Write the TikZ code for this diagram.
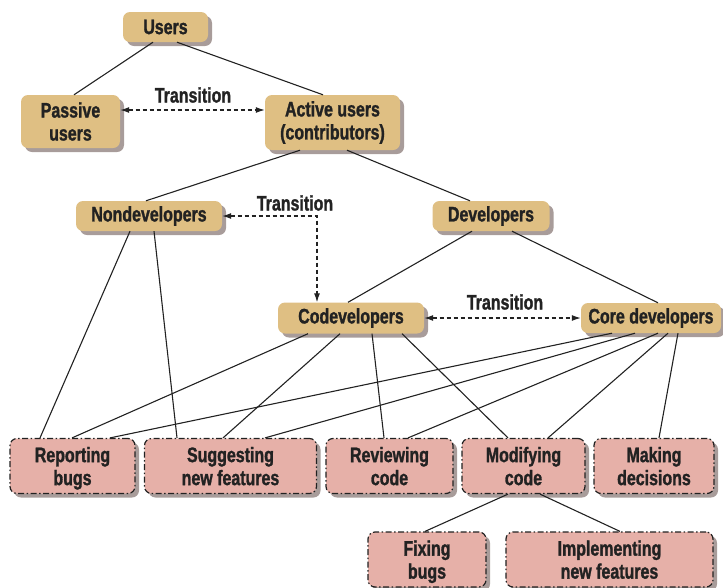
\documentclass[tikz,border=0pt]{standalone}
\usepackage{fontspec}
\setmainfont{Liberation Sans}[FakeStretch=0.84]
\newfontfamily\boxfont{Liberation Sans}[FakeStretch=0.76,FakeBold=1.3]
\usetikzlibrary{arrows.meta,shadows,calc}
\definecolor{tan}{HTML}{DFBF83}
\definecolor{pinkbox}{HTML}{E6B0A8}
\definecolor{shadowgray}{HTML}{A89C9A}
\definecolor{ink}{HTML}{222222}
\tikzset{
  base/.style={rounded corners=7pt, align=center, inner sep=0pt,
    font=\fontsize{21}{23}\selectfont\boxfont\bfseries, text=ink,
    drop shadow={shadow xshift=4pt, shadow yshift=-4pt, fill=shadowgray, opacity=1}},
  role/.style={base, fill=tan, draw=none},
  task/.style={base, fill=pinkbox, draw=ink, line width=1.2pt,
    dash pattern=on 6pt off 2.5pt on 1.5pt off 2.5pt, text depth=-2pt},
  link/.style={draw=ink, line width=1.1pt},
  trans/.style={draw=ink, line width=1.1pt, dash pattern=on 4pt off 3pt,
    {Latex[length=9pt,width=6pt]}-{Latex[length=9pt,width=6pt]}},
  lbl/.style={font=\fontsize{21}{23}\selectfont\boxfont\bfseries, text=ink, inner sep=0pt}
}
\begin{document}
\begin{tikzpicture}[x=1pt,y=-1pt]
\useasboundingbox (0,0) rectangle (723,587);
% roles
\node[role, minimum width=85pt, minimum height=30pt] (users) at (165.5,27) {Users};
\node[role, minimum width=99pt, minimum height=53pt] (passive) at (70.5,121.5) {Passive\\users};
\node[role, minimum width=135pt, minimum height=55pt] (active) at (332.5,122.5) {Active users\\(contributors)};
\node[role, minimum width=146pt, minimum height=30pt] (nondev) at (149,216) {Nondevelopers};
\node[role, minimum width=117pt, minimum height=30pt] (devs) at (491,216) {Developers};
\node[role, minimum width=146pt, minimum height=31pt] (codev) at (351,318) {Codevelopers};
\node[role, minimum width=140pt, minimum height=30pt] (core) at (651,318) {Core developers};
% tasks
\node[task, minimum width=125pt, minimum height=55pt] (report) at (72.5,466) {Reporting\\bugs};
\node[task, minimum width=172pt, minimum height=55pt] (suggest) at (230.5,466) {Suggesting\\new features};
\node[task, minimum width=127pt, minimum height=55pt] (review) at (389.5,466) {Reviewing\\code};
\node[task, minimum width=123pt, minimum height=55pt] (modify) at (523.5,466) {Modifying\\code};
\node[task, minimum width=120pt, minimum height=55pt] (decide) at (654,466) {Making\\decisions};
\node[task, minimum width=118pt, minimum height=55pt] (fix) at (427,559.5) {Fixing\\bugs};
\node[task, minimum width=207pt, minimum height=55pt] (impl) at (609.5,559.5) {Implementing\\new features};
% hierarchy links
\draw[link] ([xshift=-12.5pt]users.south) -- ([xshift=3.5pt]passive.north);
\draw[link] ([xshift=11.5pt]users.south) -- ([xshift=-9.5pt]active.north);
\draw[link] ([xshift=-32.5pt]active.south) -- ([xshift=-3pt]nondev.north);
\draw[link] ([xshift=14.5pt]active.south) -- ([xshift=-21pt]devs.north);
\draw[link] ([xshift=-19pt]devs.south) -- ([xshift=-3pt]codev.north);
\draw[link] ([xshift=21pt]devs.south) -- ([xshift=7pt]core.north);
% activity links
\draw[link] ([xshift=-19pt]nondev.south) -- ([xshift=-32.5pt]report.north);
\draw[link] ([xshift=5pt]nondev.south) -- ([xshift=-53.5pt]suggest.north);
\draw[link] ([xshift=-43pt]codev.south) -- ([xshift=-0.5pt]report.north);
\draw[link] ([xshift=-11pt]codev.south) -- ([xshift=-7.5pt]suggest.north);
\draw[link] ([xshift=21pt]codev.south) -- ([xshift=-5.5pt]review.north);
\draw[link] ([xshift=51pt]codev.south) -- ([xshift=-15.5pt]modify.north);
\draw[link] ([xshift=-39pt]core.south) -- ([xshift=37.5pt]report.north);
\draw[link] ([xshift=-16pt]core.south) -- ([xshift=34.5pt]suggest.north);
\draw[link] ([xshift=7pt]core.south) -- ([xshift=18.5pt]review.north);
\draw[link] ([xshift=17pt]core.south) -- ([xshift=24.5pt]modify.north);
\draw[link] ([xshift=27pt]core.south) -- ([xshift=5pt]decide.north);
\draw[link] ([xshift=-15.5pt]modify.south) -- ([xshift=-2pt]fix.north);
\draw[link] ([xshift=16.5pt]modify.south) -- ([xshift=10.5pt]impl.north);
% transitions
\draw[trans] ([yshift=11.5pt]passive.east) -- ([yshift=11.5pt]passive.east -| active.west);
\node[lbl] (t1) at (193,95) {Transition};
\draw[trans] (nondev.east) -| ([xshift=-34pt]codev.north);
\node[lbl] (t2) at (295,203) {Transition};
\draw[trans] (codev.east) -- (core.west);
\node[lbl] (t3) at (505,302) {Transition};
\end{tikzpicture}
\end{document}
